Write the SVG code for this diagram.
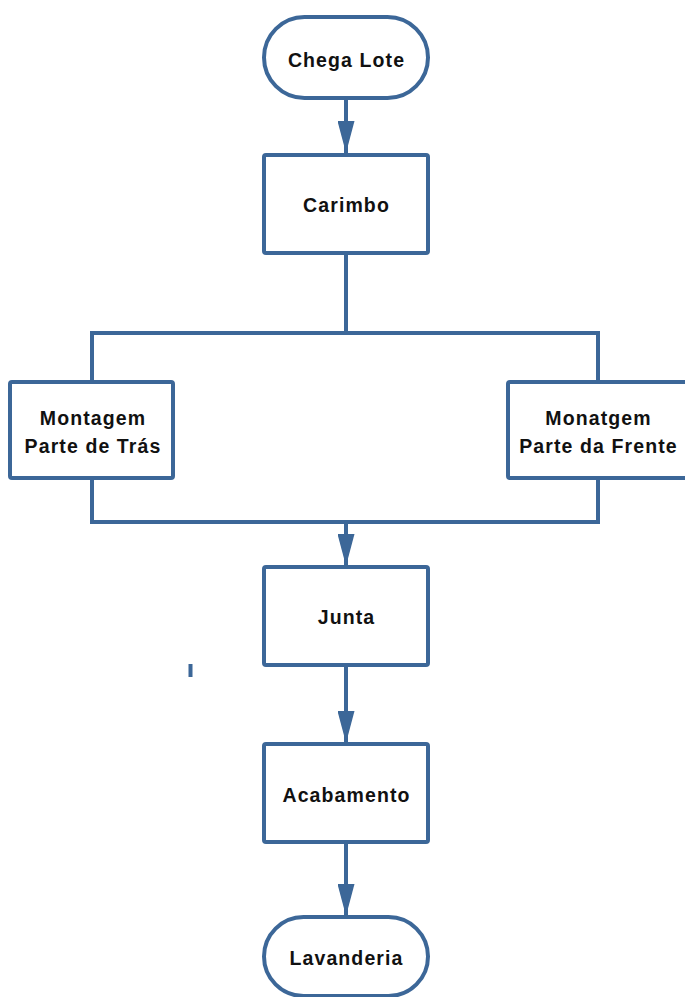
<svg xmlns="http://www.w3.org/2000/svg" width="685" height="997" viewBox="0 0 685 997">
  <style>
    .shape { fill: #ffffff; stroke: #3c6798; stroke-width: 4; }
    .wire { fill: none; stroke: #3c6798; stroke-width: 4; }
    .label { font-family: "Liberation Sans", Arial, sans-serif; font-size: 19.5px; font-weight: bold; letter-spacing: 1.1px; fill: #111111; text-anchor: middle; }
  </style>
  <defs>
    <marker id="arrow" viewBox="0 0 32 17" refX="32" refY="8.5" markerWidth="32" markerHeight="17" markerUnits="userSpaceOnUse" orient="auto">
      <path d="M0 0 L32 8.5 L0 17 Z" fill="#3c6798"/>
    </marker>
  </defs>
  <rect width="685" height="997" fill="#ffffff"/>

  <!-- connectors -->
  <g id="connectors">
    <path class="wire" d="M346 98 L346 153" marker-end="url(#arrow)"/>
    <path class="wire" d="M346 253 L346 333"/>
    <path class="wire" d="M92 382 L92 333 L598 333 L598 382"/>
    <path class="wire" d="M92 478 L92 522 L598 522 L598 478"/>
    <path class="wire" d="M346 522 L346 566" marker-end="url(#arrow)"/>
    <path class="wire" d="M346 665 L346 743" marker-end="url(#arrow)"/>
    <path class="wire" d="M346 842 L346 916" marker-end="url(#arrow)"/>
  </g>

  <g id="chega-lote">
    <rect class="shape" x="264" y="17" width="164" height="81" rx="40.5" ry="40.5"/>
    <text class="label" x="346.5" y="67">Chega Lote</text>
  </g>

  <g id="carimbo">
    <rect class="shape" x="264" y="155" width="164" height="98" rx="2"/>
    <text class="label" x="346.5" y="212">Carimbo</text>
  </g>

  <g id="montagem-tras">
    <rect class="shape" x="10" y="382" width="163" height="96" rx="2"/>
    <text class="label" x="93" y="425">Montagem</text>
    <text class="label" x="93" y="453">Parte de Trás</text>
  </g>

  <g id="montagem-frente">
    <rect class="shape" x="508" y="382" width="180" height="96" rx="2"/>
    <text class="label" x="598.5" y="425">Monatgem</text>
    <text class="label" x="598.5" y="453">Parte da Frente</text>
  </g>

  <g id="junta">
    <rect class="shape" x="264" y="567" width="164" height="98" rx="2"/>
    <text class="label" x="346.5" y="624">Junta</text>
  </g>

  <rect x="188.5" y="664" width="4" height="13" fill="#3c6798"/>

  <g id="acabamento">
    <rect class="shape" x="264" y="744" width="164" height="98" rx="2"/>
    <text class="label" x="346.5" y="802">Acabamento</text>
  </g>

  <g id="lavanderia">
    <rect class="shape" x="264" y="917" width="164" height="79" rx="39.5" ry="39.5"/>
    <text class="label" x="346.5" y="965">Lavanderia</text>
  </g>
</svg>
